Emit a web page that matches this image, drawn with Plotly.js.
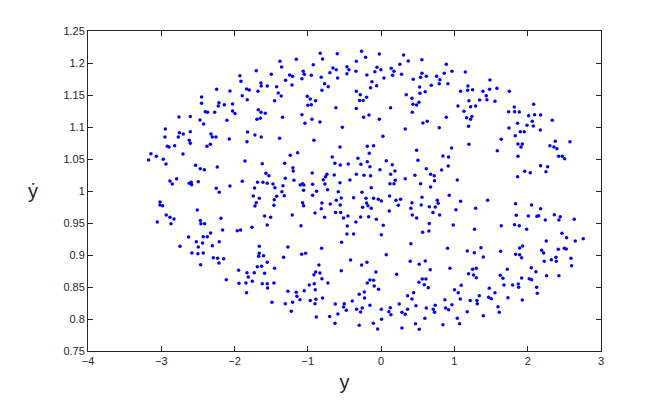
<!DOCTYPE html>
<html>
<head>
<meta charset="utf-8">
<script src="https://cdn.plot.ly/plotly-3.0.1.min.js"></script>
<style>
  html, body { margin: 0; padding: 0; background: #fff; }
  #plot { width: 664px; height: 400px; }
</style>
</head>
<body>
<div id="plot"></div>
<script>
// points, left to right roughly in strips
var yPos = [
  -1.927,-1.913,-2.245,-2.063,-1.836,-1.799,-2.450,-1.895,-1.827,-2.450,-2.213,-2.222,-2.140,-2.027,-2.400,-2.368,-2.272,-2.027,-1.995,-2.759,-2.604,-2.472,-2.422,-2.104,-2.945,-2.754,-2.700,-2.604,-2.322,-2.304,-2.254,-2.072,-2.950,-2.768,-1.822,
  -0.831,-0.599,-0.267,-1.381,-1.158,-0.799,-0.339,-1.358,-0.926,-0.658,-0.612,-0.467,-0.440,-1.704,-1.063,-0.699,-0.344,-1.499,-1.249,-1.208,-1.049,-0.953,-0.467,-1.081,-0.817,-0.594,-1.304,-1.640,-0.772,-1.636,-1.554,-1.426,-1.217,-0.722,-1.681,-0.808,-0.339,-1.404,-1.363,-1.008,-0.285,-0.967,-0.894,-1.454,-0.294,-0.244,-0.999,-0.953,-0.617,-0.339,-1.677,-1.640,-1.581,-1.081,-1.345,-0.239,-1.695,-1.649,-0.944,-1.040,-0.835,-0.530,-1.722,-1.636,-1.386,
  -0.025,0.306,-0.212,0.556,0.370,0.256,0.889,-0.057,0.138,-0.003,-0.085,0.175,0.966,1.148,-0.194,0.156,0.279,0.557,0.861,0.038,0.438,0.538,0.616,0.757,0.802,-0.126,0.793,0.911,-0.062,0.684,-0.144,0.525,1.184,1.180,1.248,1.084,0.529,0.602,0.343,-0.198,0.420,1.198,0.434,0.484,0.516,1.048,1.221,1.289,0.129,1.130,0.425,-0.166,-0.025,0.889,1.166,1.239,1.221,0.570,0.629,1.193,0.793,0.329,0.024,
  1.485,1.389,1.480,1.580,1.749,1.435,1.344,1.444,1.553,1.817,2.081,1.740,1.821,1.885,2.012,2.094,2.176,2.335,2.062,1.862,1.990,2.076,2.172,1.744,1.899,1.953,1.830,1.639,
  1.867,1.926,1.908,1.585,2.376,2.576,2.303,2.358,2.399,1.867,2.422,2.472,2.504,2.176,2.272,1.958,2.035,2.249,1.862,1.453,1.835,2.053,2.176,1.844,2.008,2.126,2.149,2.363,2.444,2.635,2.240,2.426,1.639,1.821,1.885,1.985,2.467,
  -2.618,-2.604,-2.918,-2.895,-2.818,-2.377,-2.331,-1.831,-3.141,-3.068,-2.704,-3.173,-2.973,-2.936,-1.858,-2.532,-2.468,-2.413,-2.236,-2.791,-2.882,-2.850,-2.618,-2.591,-2.586,-2.495,-2.250,-2.209,-2.063,-1.895,-3.018,-3.018,-2.982,-2.509,-2.932,-2.882,-2.827,-3.055,-2.868,-2.468,-2.459,-2.409,-2.186,-2.327,-2.163,-1.963,-1.918,
  -0.917,-0.562,-1.140,-1.240,-0.667,-0.317,-1.622,-1.317,-0.631,-0.558,-0.449,-0.276,-1.204,-1.199,-0.940,-1.572,-1.531,-1.308,-1.190,-0.740,-0.758,-0.640,-0.339,-0.235,-0.790,-0.426,-1.686,-1.613,-1.554,-1.476,-0.767,-0.562,-1.340,-1.449,-1.104,-1.072,-1.054,-0.935,-1.727,-1.058,-0.731,-1.354,-0.881,-0.585,-0.262,-1.745,-1.663,-1.426,-1.322,-0.935,-0.544,-0.376,-1.458,-1.704,-1.072,-0.808,-0.694,-0.612,-0.558,-1.722,-1.463,-1.058,-0.817,-0.903,-0.621,-0.553,-0.772,-0.512,-0.453,-0.344,-0.280,-0.253,-1.590,-1.508,-1.213,-1.554,-1.094,-1.763,-0.462,-0.467,-0.376,
  -0.189,-0.103,-0.162,0.484,0.961,1.198,0.843,0.920,-0.189,-0.153,0.070,0.152,0.502,0.916,0.825,-0.016,0.188,0.129,0.616,0.675,0.725,-0.144,0.461,0.329,0.193,0.729,1.039,0.120,0.175,0.538,-0.135,0.675,-0.207,-0.103,-0.039,0.002,-0.198,-0.180,-0.135,0.115,0.202,0.265,0.557,0.420,0.234,0.547,0.766,0.779,0.929,1.084,1.289,0.406,0.657,0.739,0.111,0.707,0.798,1.021,0.425,0.484,-0.171,-0.066,0.029,0.657,0.984,1.275,0.002,0.566,0.652,
  -2.627,-2.427,-2.372,-2.522,-2.436,-2.209,-2.745,-2.495,-2.304,-2.582,-2.500,-2.427,-2.290,-2.231,-2.149,-2.213,-2.463,-1.945,-1.831,-1.813,-2.113,-1.940,-1.845,-1.758,-1.836,
  -1.663,-1.272,-1.663,-1.672,-1.604,-0.540,-0.812,-1.085,-1.031,-1.331,-1.554,-1.690,-1.631,-1.454,-1.731,-1.590,-0.849,-0.417,-0.267,-0.894,-0.917,-0.835,-0.808,-0.544,-1.622,-1.554,-1.549,-1.463,-0.981,-0.913,-0.726,-1.272,-1.158,-1.149,-1.049,-0.899,-1.108,-0.967,-0.890,-0.799,-0.903,-1.308,-1.208,-1.490,-0.626,-0.503,-0.394,-0.299,-0.230,-0.226,-0.512,-0.476,-0.335,-0.280,-0.258,-0.590,-0.703,-0.885,-1.226,-0.630,-0.299,
  0.406,0.906,0.070,1.175,1.271,-0.194,0.397,0.520,0.602,0.939,0.670,1.248,1.298,-0.071,0.211,1.193,1.261,1.298,-0.153,-0.103,-0.189,-0.094,-0.035,0.516,0.561,0.611,0.588,0.643,1.093,1.002,1.052,0.443,0.361,0.420,0.870,1.080,1.216,1.307,1.312,-0.153,0.002,0.125,0.106,0.134,0.247,0.475,0.616,0.738,0.711,0.729,0.879,0.920,0.966,0.284,0.329,0.361,1.175,1.039,0.597,0.006,-0.107,-0.048,0.284,0.470,0.520,0.843,1.070,
  2.531,2.649,2.758,2.253,1.362,1.630,1.890,1.931,2.190,2.217,2.417,2.499,2.526,1.835,1.890,1.917,1.394,2.322,2.385,2.390,2.226,2.590,2.599,2.049,2.112,1.721,2.258,2.426,1.626,1.662,1.917,2.021,2.053,1.676,1.794,1.871,1.876,2.121,1.476,1.553,2.131,1.339,1.467,1.503,1.730,1.926,1.594,1.612,1.394
];
var yDot = [
  1.180,1.1713,1.1588,1.1562,1.1594,1.1578,1.1469,1.1489,1.1427,1.137,1.138,1.1328,1.1349,1.136,1.124,1.123,1.123,1.125,1.121,1.1156,1.1166,1.111,1.1047,1.1104,1.097,1.091,1.089,1.0927,1.089,1.0843,1.0843,1.0812,1.0843,1.0843,1.092,
  1.2151,1.2146,1.2182,1.2026,1.2057,1.2063,1.2026,1.1938,1.1974,1.1922,1.1896,1.1943,1.1896,1.188,1.187,1.1849,1.187,1.1823,1.1812,1.1792,1.1823,1.1807,1.1833,1.1755,1.1776,1.1766,1.1729,1.1687,1.1677,1.164,1.164,1.163,1.1656,1.163,1.1557,1.1573,1.1557,1.1531,1.1484,1.1479,1.1505,1.1437,1.1411,1.1411,1.1416,1.1416,1.1338,1.1349,1.1302,1.1291,1.127,1.1229,1.1213,1.1192,1.1151,1.1151,1.112,1.1135,1.112,1.1057,1.1078,1.0995,1.0875,1.0843,1.0823,
  1.2141,1.2125,1.2089,1.2052,1.2031,1.1979,1.1979,1.1932,1.1917,1.1896,1.1865,1.187,1.187,1.186,1.1812,1.1807,1.1823,1.1838,1.1838,1.1766,1.1745,1.1776,1.1792,1.1792,1.174,1.1708,1.1677,1.1677,1.1646,1.1651,1.1614,1.1625,1.1641,1.1573,1.1583,1.1557,1.1526,1.1552,1.1505,1.1463,1.1448,1.1411,1.1354,1.1344,1.1385,1.1328,1.1318,1.1328,1.1302,1.1245,1.1229,1.1187,1.112,1.1151,1.1146,1.1166,1.112,1.1062,1.1088,1.101,1.0989,1.0968,1.0854,
  1.1734,1.1557,1.1588,1.1604,1.1557,1.1489,1.1422,1.1427,1.1401,1.1312,1.1354,1.1239,1.1239,1.1234,1.1177,1.1192,1.1187,1.1104,1.1088,1.1057,1.1026,1.1015,1.0953,1.0984,1.0927,1.0927,1.0864,1.0807,
  1.0734,1.0734,1.0688,1.063,1.0776,1.0771,1.0708,1.0688,1.0662,1.0542,1.0542,1.0542,1.0505,1.0396,1.038,1.0307,1.0286,1.0302,1.0224,0.9854,0.9802,0.9781,0.9724,0.962,0.9609,0.9604,0.9614,0.963,0.9599,0.9557,0.9547,0.9547,0.9458,0.9474,0.9458,0.9401,0.9338,
  1.0792,1.0745,1.0698,1.0688,1.0708,1.0698,1.073,1.0771,1.0583,1.0542,1.0578,1.0484,1.0495,1.0422,1.0469,1.0401,1.0349,1.0333,1.0375,1.0193,1.0156,1.0109,1.012,1.0135,1.0099,1.0146,1.0042,0.9979,1.0078,1.0151,0.9828,0.9781,0.977,0.9703,0.9625,0.9588,0.9562,0.9515,0.9489,0.9541,0.9489,0.9489,0.9573,0.9343,0.939,0.938,0.939,
  1.0792,1.0688,1.0599,1.0557,1.0531,1.051,1.0427,1.0432,1.0432,1.0406,1.0422,1.0417,1.0365,1.0312,1.0281,1.0276,1.024,1.0198,1.0167,1.026,1.0224,1.025,1.026,1.0245,1.0177,1.0172,1.0135,1.0135,1.012,1.0109,1.0109,1.013,1.0083,1.0052,1.0094,1.0114,1.0094,1.0104,1.0047,1.001,1.002,0.9989,0.9995,0.9989,0.9979,0.9922,0.9885,0.9917,0.9927,0.9932,0.989,0.9896,0.9864,0.9818,0.9818,0.9812,0.9797,0.9854,0.9781,0.9765,0.9776,0.977,0.9724,0.9656,0.9666,0.9666,0.9588,0.9578,0.9609,0.9515,0.9593,0.9745,0.9609,0.9588,0.9625,0.9469,0.9458,0.9432,0.9453,0.9328,0.9328,
  1.0698,1.0708,1.0589,1.0635,1.0672,1.073,1.0547,1.0531,1.0458,1.038,1.0474,1.0411,1.0479,1.039,1.0328,1.0333,1.0312,1.026,1.0349,1.026,1.024,1.024,1.0245,1.0193,1.0167,1.0161,1.0172,1.0114,1.0114,1.0114,1.0052,1.0062,0.9885,0.9885,0.987,0.9844,0.9812,0.977,0.9729,0.9922,0.9854,0.987,0.9901,0.9818,0.9776,0.9781,0.9854,0.9807,0.9932,0.9838,0.9729,0.9729,0.9755,0.975,0.9687,0.9666,0.9625,0.9708,0.9625,0.9578,0.9599,0.9557,0.9463,0.9494,0.9468,0.9401,0.9317,0.9354,0.9375,
  0.9281,0.9287,0.9287,0.9208,0.9188,0.9208,0.9135,0.9125,0.9146,0.9031,0.9021,0.9031,0.8958,0.8948,0.8943,0.8875,0.8849,0.876,0.8724,0.8656,0.8614,0.8557,0.8562,0.8588,0.8411,
  0.9135,0.9125,0.9026,0.8979,0.899,0.9198,0.9104,0.901,0.9026,0.8964,0.8885,0.8818,0.8823,0.8792,0.8724,0.8713,0.8844,0.8922,0.8844,0.8734,0.8693,0.8719,0.863,0.8755,0.8552,0.8552,0.8484,0.8562,0.8531,0.8552,0.8562,0.8432,0.8417,0.8354,0.8443,0.8458,0.8302,0.8291,0.8307,0.8328,0.8239,0.8239,0.826,0.826,0.8234,0.8239,0.8281,0.8385,0.8422,0.8328,0.8187,0.8135,0.8151,0.8109,0.8172,0.8078,0.8041,0.8031,0.812,0.7932,0.7901,
  0.9177,0.9104,0.9005,0.9063,0.9037,0.8885,0.8901,0.8854,0.8906,0.8792,0.8771,0.8776,0.8792,0.8734,0.8698,0.8708,0.8687,0.8646,0.8609,0.8604,0.8562,0.8516,0.8463,0.8573,0.8625,0.8625,0.8536,0.8489,0.8526,0.8458,0.8411,0.8411,0.8364,0.8312,0.8302,0.8312,0.8291,0.8291,0.8239,0.8213,0.8151,0.8177,0.8114,0.8067,0.8234,0.8208,0.8172,0.8213,0.8151,0.8104,0.8172,0.8146,0.8224,0.8104,0.8073,0.8151,0.8114,0.801,0.801,0.7995,0.7932,0.7843,0.7859,0.7927,0.7838,0.7911,0.7927,
  0.9271,0.9219,0.9255,0.9219,0.9115,0.9057,0.9109,0.9141,0.9073,0.9031,0.9089,0.9104,0.9094,0.901,0.9005,0.8958,0.8969,0.8927,0.8964,0.8901,0.8901,0.8948,0.8833,0.8802,0.8739,0.8776,0.8677,0.8677,0.8682,0.8635,0.8641,0.863,0.8614,0.8531,0.8531,0.8547,0.8495,0.8495,0.8479,0.8411,0.8401,0.8364,0.8338,0.8318,0.8333,0.8297,0.8193,0.8104,0.8052
];

var xTicks = [-4, -3, -2, -1, 0, 1, 2, 3];
var yTicks = [0.75, 0.8, 0.85, 0.9, 0.95, 1, 1.05, 1.1, 1.15, 1.2, 1.25];

var trace = {
  x: yPos,
  y: yDot,
  mode: 'markers',
  type: 'scatter',
  marker: {color: '#0000ff', size: 3.5},
  hoverinfo: 'none'
};

var axisFont = {family: 'Liberation Sans, Arial, sans-serif', size: 11, color: '#262626'};

var layout = {
  width: 664,
  height: 400,
  paper_bgcolor: '#fff',
  plot_bgcolor: '#fff',
  showlegend: false,
  margin: {l: 88, r: 63, t: 31, b: 49},
  xaxis: {
    range: [-4, 3],
    tickvals: xTicks,
    ticks: 'inside',
    ticklen: 5,
    tickcolor: '#262626',
    showline: true,
    linecolor: '#262626',
    linewidth: 1,
    mirror: 'allticks',
    showgrid: false,
    zeroline: false,
    tickfont: axisFont,
    title: {text: 'y', font: {family: 'Liberation Sans, Arial, sans-serif', size: 20, color: '#262626'}, standoff: 8}
  },
  yaxis: {
    range: [0.75, 1.25],
    tickvals: yTicks,
    ticks: 'inside',
    ticklen: 5,
    tickcolor: '#262626',
    showline: true,
    linecolor: '#262626',
    linewidth: 1,
    mirror: 'allticks',
    showgrid: false,
    zeroline: false,
    tickfont: axisFont
  },
  annotations: [{
    text: 'ẏ',
    xref: 'paper', yref: 'paper',
    x: -0.108, y: 0.5,
    xanchor: 'center', yanchor: 'middle',
    showarrow: false,
    font: {family: 'Liberation Sans, Arial, sans-serif', size: 20, color: '#262626'}
  }]
};

Plotly.newPlot('plot', [trace], layout, {displayModeBar: false, staticPlot: true});
</script>
</body>
</html>
